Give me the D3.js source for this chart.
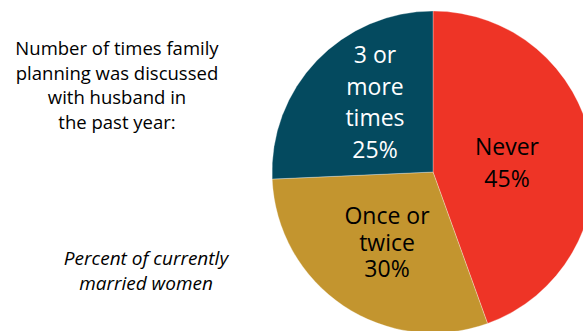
<!DOCTYPE html>
<html>
<head>
<meta charset="utf-8">
<script src="https://cdn.jsdelivr.net/npm/d3@7"></script>
<style>
  body { margin: 0; background: #fff; }
  svg { display: block; font-family: "Open Sans", sans-serif; }
</style>
</head>
<body>
<div id="chart"></div>
<script>
// slice sizes; labels as printed
const categories = ["Never", "Once or twice", "3 or more times"];
const shares = [44.5, 29.8, 25.7];
const pctLabels = ["45%", "30%", "25%"];
const labelLines = [["Never"], ["Once or", "twice"], ["3 or", "more", "times"]];
const colors = ["#ee3426", "#c3952f", "#044a5f"];
const textColors = ["#000", "#000", "#fff"];

const titleLines = ["Number of times family", "planning was discussed", "with husband in", "the past year:"];
const noteLines = ["Percent of currently", "married women"];

const width = 583, height = 331;
const cx = 433, cy = 172, r = 161;

const svg = d3.select("#chart").append("svg")
    .attr("width", width)
    .attr("height", height);

const pie = d3.pie().sort(null).value(d => d)(shares);
const arc = d3.arc().innerRadius(0).outerRadius(r);

const g = svg.append("g").attr("transform", `translate(${cx}, ${cy})`);

g.selectAll("path")
    .data(pie)
    .enter()
    .append("path")
        .attr("d", arc)
        .attr("fill", (d, i) => colors[i])
        .attr("stroke", "#fff")
        .attr("stroke-width", 0.6)
        .attr("stroke-opacity", 0.5);

// label placement inside each slice (offsets from centre)
const labelPos = [
    { x: 74, y: -17, lh: 32 },
    { x: -46, y: 52, lh: 26.5 },
    { x: -58, y: -109, lh: 31.7 }
];

pie.forEach((d, i) => {
    const lines = labelLines[i].concat([pctLabels[i]]);
    lines.forEach((line, j) => {
        g.append("text")
            .attr("text-anchor", "middle")
            .attr("fill", textColors[i])
            .attr("font-size", "23px")
            .attr("x", labelPos[i].x)
            .attr("y", labelPos[i].y + j * labelPos[i].lh)
            .text(line);
    });
});

titleLines.forEach((line, j) => {
    svg.append("text")
        .attr("text-anchor", "middle")
        .attr("font-size", "18.5px")
        .attr("fill", "#000")
        .attr("x", 117)
        .attr("y", 55 + j * 24.5)
        .text(line);
});

noteLines.forEach((line, j) => {
    svg.append("text")
        .attr("text-anchor", "middle")
        .attr("font-size", "19px")
        .attr("font-style", "italic")
        .attr("fill", "#000")
        .attr("x", 146)
        .attr("y", 265 + j * 25)
        .text(line);
});
</script>
</body>
</html>
